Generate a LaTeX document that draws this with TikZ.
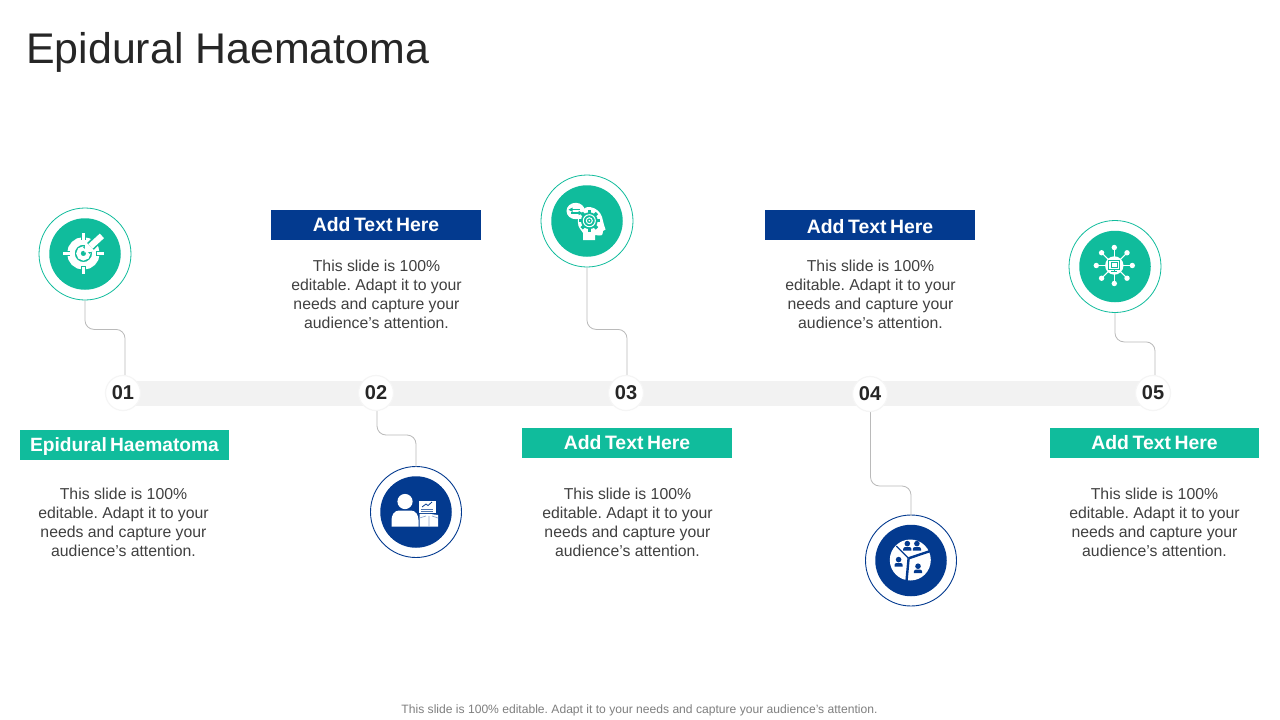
\documentclass[tikz,border=0pt]{standalone}
\usepackage{fontspec}
\setmainfont{Liberation Sans}
\definecolor{teal1}{HTML}{10BC9C}
\definecolor{blue1}{HTML}{033A8F}
\definecolor{bandc}{HTML}{F2F2F2}
\definecolor{txt}{HTML}{404040}
\definecolor{ttl}{HTML}{262626}
\definecolor{foot}{HTML}{7F7F7F}
\definecolor{conn}{HTML}{BABABA}
\newcommand{\bodyfs}{\fontsize{15.8}{19}\selectfont\frenchspacing}
\newcommand{\headfs}{\fontsize{19.4}{24}\selectfont\bfseries\spaceskip=3.5pt\relax}
\newcommand{\headsm}{\fontsize{19.2}{24}\selectfont\bfseries\spaceskip=3.2pt\relax}
\newcommand{\persona}[3]{% x y colour
  \fill[#3] (#1,#2-2.6) circle (2.8);
  \fill[#3] (#1-4.1,#2+4.4) -- (#1-4.1,#2+2.8) to[out=90,in=180] (#1-2,#2+0.8) -- (#1+2,#2+0.8) to[out=0,in=90] (#1+4.1,#2+2.8) -- (#1+4.1,#2+4.4) -- cycle;
}
\tikzset{
  x=1pt,y=-1pt,
  band/.style={fill=bandc,draw=none},
  marker/.style={circle,fill=white,draw=black!4,line width=1.2,minimum size=35,inner sep=0,font=\fontsize{20}{24}\selectfont\bfseries,text=ttl},
  ringt/.style={circle,draw=teal1,line width=0.8,fill=white,minimum size=92,inner sep=0},
  ringb/.style={circle,draw=blue1,line width=0.9,fill=white,minimum size=91,inner sep=0},
  disct/.style={circle,fill=teal1,minimum size=71.5,inner sep=0},
  discb/.style={circle,fill=blue1,minimum size=71.5,inner sep=0},
  headt/.style={fill=teal1,minimum width=209.5,minimum height=30,inner sep=0,text=white,text height=14,text depth=0.5,font=\headfs},
  headb/.style={fill=blue1,minimum width=210,minimum height=30,inner sep=0,text=white,text height=14,text depth=0.5,font=\headfs},
  bodytext/.style={align=center,text=txt,font=\bodyfs,inner sep=0},
  linkline/.style={draw=conn,line width=0.8,rounded corners=9},
}
\begin{document}
\begin{tikzpicture}
\useasboundingbox (0,0) rectangle (1280,720);
\fill[white] (0,0) rectangle (1280,720);
\node[anchor=west,text=ttl,font=\fontsize{42.9}{50}\selectfont,inner sep=0] (title) at (26,52) {Epidural Haematoma};
\fill[band] (123,381) rectangle (1153,405.5);

\coordinate (c1) at (125,376);
\coordinate (c2) at (416,467);
\coordinate (c3) at (627,376);
\coordinate (c4) at (911,516);
\coordinate (c5) at (1155,376);

\node[ringt] (r1) at (85,254) {};
\node[ringb] (r2) at (416,512) {};
\node[ringt] (r3) at (587,221) {};
\node[ringb] (r4) at (911,560.5) {};
\node[ringt] (r5) at (1115,266.5) {};

\coordinate (s2) at (377,410);
\coordinate (s4) at (870.5,410);

\draw[linkline] (r1.south) -- ++(0,29) -| (c1);
\draw[linkline] (s2) -- ++(0,25) -| (c2);
\draw[linkline] (r3.south) -- ++(0,62) -| (c3);
\draw[linkline] (s4) -- ++(0,76) -| (c4);
\draw[linkline] (r5.south) -- ++(0,29) -| (c5);

\node[marker] (m1) at (123,393) {01};
\node[marker] (m2) at (376,393) {02};
\node[marker] (m3) at (626,393) {03};
\node[marker] (m4) at (870,394) {04};
\node[marker] (m5) at (1153,393) {05};

\node[disct] (d1) at (r1) {};
\node[discb] (d2) at (r2) {};
\node[disct] (d3) at (r3) {};
\node[discb] (d4) at (r4) {};
\node[disct] (d5) at (r5) {};

% icon 1: target with dart
\begin{scope}[shift={(83.4,253.4)}]
  \draw[white,line width=7.5] (0,0) circle (12.5);
  \foreach \a in {0,90,180,270}{
    \fill[teal1,rotate=\a] (-2.4,-16.5) rectangle (2.4,-13);
    \fill[white,rotate=\a] (-1.5,-20.5) rectangle (1.5,-13.5);
  }
  \draw[white,line width=4.2] (0,0) circle (5);
  \draw[teal1,line width=9.5] (3,-3) -- (14,-14);
  \draw[white,line width=6.2] (7,-7) -- (18.5,-17.5);
  \fill[white] (1,-1) -- (2,-12) -- (12,-2) -- cycle;
\end{scope}

% icon 2: person with chart and box
\begin{scope}[shift={(416,512)}]
  \fill[white] (-11,-10.5) circle (7.6);
  \fill[white] (-24.5,14.5) -- (-24.5,8) to[out=90,in=180] (-17,-1.5) -- (-5,-1.5) to[out=0,in=90] (2.5,8) -- (2.5,14.5) -- cycle;
  \fill[white] (2.5,-11.5) rectangle (20,1);
  \draw[blue1!70!white,line width=0.7] (5,-3) -- (17,-3) (5,-0.8) -- (17,-0.8);
  \draw[blue1,line width=0.8] (6,-5) -- (10,-8) -- (12,-6.5) -- (16,-10);
  \fill[white] (3.5,1.8) -- (13,1.8) -- (22,3) -- (22,14.5) -- (3.5,14.5) -- cycle;
  \draw[blue1!45!white,line width=0.7] (13,4) -- (13,14.5) (3.5,6) -- (10,4) (22,6) -- (16,4);
\end{scope}

% icon 3: head with gear and bubble
\begin{scope}[shift={(587,221)}]
  \fill[white] (-4,19) -- (-4,12) to[out=120,in=270] (-9,2) to[out=90,in=215] (-6,-10) to[out=35,in=170] (3,-14) to[out=-10,in=110] (15,-4)
    to[out=290,in=110] (17,4) -- (18.5,8.5) -- (16,10) -- (15.5,13) to[out=270,in=0] (12,14.5) -- (8,14) -- (8,19) -- cycle;
  \fill[white] (-11.3,-10) ellipse (9.2 and 8.2);
  \draw[teal1,line width=1.1] (-15,-11.3) -- (-7,-11.3) (-16,-8) -- (-8,-8);
  \fill[teal1] (-18.5,-11.3) -- (-14.5,-13.5) -- (-14.5,-9.1) -- cycle;
  \fill[teal1] (-4.5,-8) -- (-8.5,-10.2) -- (-8.5,-5.8) -- cycle;
  \begin{scope}[shift={(2.3,-0.3)}]
    \foreach \a in {0,45,...,315}{\fill[teal1,rotate=\a] (-1.7,-10.8) rectangle (1.7,-7);}
    \fill[teal1] (0,0) circle (8.4);
    \draw[white,line width=1] (0,0) circle (6);
    \draw[white,line width=1] (0,0) circle (3);
    \fill[white] (0,0) circle (0.9);
  \end{scope}
\end{scope}

% icon 4: pie with people
\begin{scope}[shift={(910.3,560)}]
  \fill[white] (0,0) circle (20.5);
  \draw[blue1,line width=1.2] (-1.7,-1.7) -- (-14,-14);
  \draw[blue1,line width=2.4] (-1.7,-1.7) -- (20,-9);
  \draw[blue1,line width=2.4] (-1.7,-1.7) -- (-3.8,21);
  \persona{-3}{-13.8}{blue1}
  \persona{6.6}{-13.8}{blue1}
  \persona{-11.7}{2.2}{blue1}
  \persona{7.7}{8.8}{blue1}
\end{scope}

% icon 5: network around a monitor
\begin{scope}[shift={(1114.3,265.5)}]
  \foreach \a in {0,45,...,315}{
    \draw[white,line width=1] (0,0) -- (\a:18);
    \fill[white] (\a:18) circle (2.7);
  }
  \fill[white] (0,0) circle (9.2);
  \draw[teal1,line width=0.9] (-5.5,-5.5) rectangle (5.5,3.5);
  \draw[teal1,line width=0.7] (-3,-3.5) rectangle (3,1.5);
  \draw[teal1,line width=0.9] (-3,6) -- (3,6) (0,3.5) -- (0,6);
\end{scope}

\node[headt,font=\headsm] (h1) at (124.5,445) {Epidural Haematoma};
\node[headb] (h2) at (376,225) {Add Text Here};
\node[headt] (h3) at (627,443) {Add Text Here};
\node[headb,text height=16,text depth=0] (h4) at (870,225) {Add Text Here};
\node[headt] (h5) at (1154.5,443) {Add Text Here};

\node[bodytext,anchor=north] (b1) at (123.5,488) {This slide is 100\%\\editable. Adapt it to your\\needs and capture your\\audience’s attention.};
\node[bodytext,anchor=north] (b2) at (376.5,260) {This slide is 100\%\\editable. Adapt it to your\\needs and capture your\\audience’s attention.};
\node[bodytext,anchor=north] (b3) at (627.5,488) {This slide is 100\%\\editable. Adapt it to your\\needs and capture your\\audience’s attention.};
\node[bodytext,anchor=north] (b4) at (870.5,260) {This slide is 100\%\\editable. Adapt it to your\\needs and capture your\\audience’s attention.};
\node[bodytext,anchor=north] (b5) at (1154.5,488) {This slide is 100\%\\editable. Adapt it to your\\needs and capture your\\audience’s attention.};

\node[text=foot,font=\fontsize{12.1}{14}\selectfont\frenchspacing,inner sep=0] (foot) at (639.5,710) {This slide is 100\% editable. Adapt it to your needs and capture your audience’s attention.};
\end{tikzpicture}
\end{document}
